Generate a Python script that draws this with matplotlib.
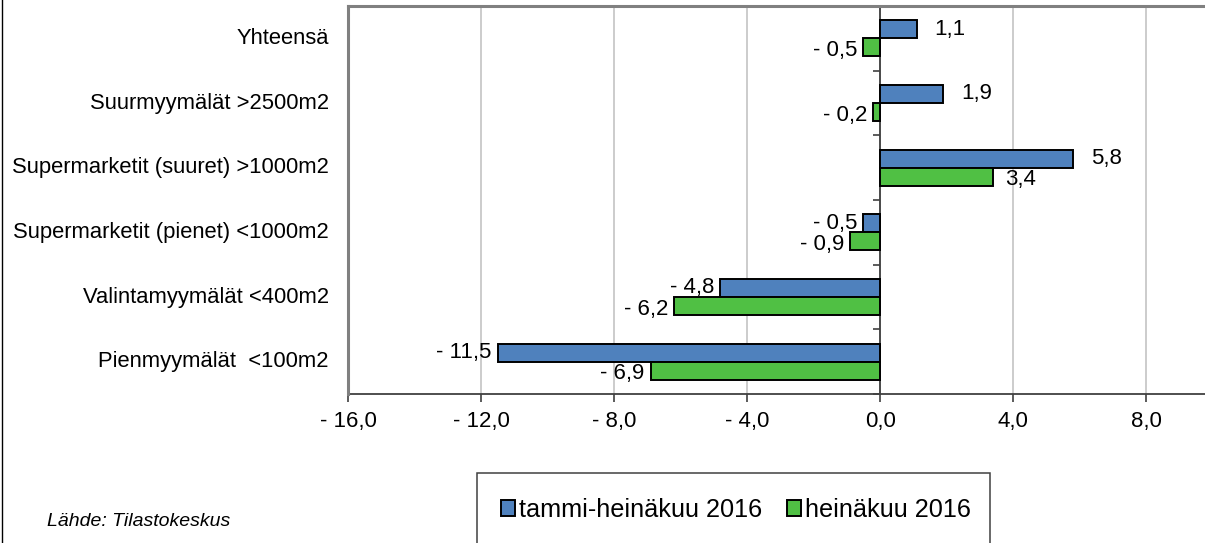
import matplotlib
matplotlib.use('Agg')
import matplotlib.pyplot as plt
import matplotlib.transforms as mtransforms
from matplotlib.patches import Patch, Rectangle
from matplotlib.lines import Line2D
import numpy as np

# data (top to bottom)
categories = ['Yhteensä', 'Suurmyymälät >2500m2', 'Supermarketit (suuret) >1000m2',
              'Supermarketit (pienet) <1000m2', 'Valintamyymälät <400m2', 'Pienmyymälät  <100m2']
tammi_heina = [1.1, 1.9, 5.8, -0.5, -4.8, -11.5]
heina = [-0.5, -0.2, 3.4, -0.9, -6.2, -6.9]
series_names = ['tammi-heinäkuu 2016', 'heinäkuu 2016']
x_ticks = [-16, -12, -8, -4, 0, 4, 8]

blue = '#4F81BD'
green = '#50C044'


def fmt(v):
    s = f"{abs(v):.1f}".replace('.', ',')
    return f"- {s}" if v < 0 else s


plt.rcParams['font.family'] = ['Liberation Sans', 'DejaVu Sans']

W, H = 1205, 543
fig = plt.figure(figsize=(W / 100, H / 100), dpi=100)
ax = fig.add_axes([348 / W, 1 - 394 / H, 1 - 348 / W, (394 - 6) / H])

n = len(categories)
ypos = np.arange(n)[::-1]
h = 0.28
ax.barh(ypos + h / 2, tammi_heina, height=h, color=blue, edgecolor='black', linewidth=1.4, zorder=3)
ax.barh(ypos - h / 2, heina, height=h, color=green, edgecolor='black', linewidth=1.4, zorder=3)

# value labels
for y, v in zip(ypos, tammi_heina):
    off = 18 if v > 0 else -6
    ax.annotate(fmt(v), (v, y + h / 2), xytext=(off, 0), textcoords='offset pixels',
                ha='left' if v > 0 else 'right', va='center', fontsize=16)
for y, v in zip(ypos, heina):
    off = 12 if v > 0 else -6
    ax.annotate(fmt(v), (v, y - h / 2), xytext=(off, -3), textcoords='offset pixels',
                ha='left' if v > 0 else 'right', va='center', fontsize=16)

ax.set_xlim(-16, 9.77)
ax.set_ylim(-0.5, n - 0.5)

# axes styling
ax.spines['left'].set_position(('data', 0))
ax.spines['left'].set_color('#404040')
ax.spines['left'].set_linewidth(1.3)
ax.spines['right'].set_visible(False)
ax.spines['top'].set_color('#808080')
ax.spines['top'].set_linewidth(2.2)
ax.spines['bottom'].set_color('#404040')
ax.spines['bottom'].set_linewidth(1.3)
ax.axvline(-16, color='#808080', lw=2.2, clip_on=False, zorder=4)

ax.set_yticks(ypos)
ax.set_yticklabels([])
ax.tick_params(axis='y', which='major', length=0)
ax.set_yticks(np.arange(-0.5, n, 1), minor=True)
ax.tick_params(axis='y', which='minor', length=5, width=1.2, color='#404040', direction='out')

ax.set_xticks(x_ticks)
ax.set_xticklabels([fmt(v) for v in x_ticks], fontsize=16)
ax.tick_params(axis='x', length=6, width=1.2, color='#404040', pad=6)
ax.grid(axis='x', color='#C8C8C8', lw=1.3)
ax.set_axisbelow(True)

trans = mtransforms.blended_transform_factory(ax.transAxes, ax.transData)
for y, lab in zip(ypos, categories):
    ax.text(-19 / 857, y, lab, transform=trans, ha='right', va='center', fontsize=15.8)

# legend
handles = [Patch(facecolor=blue, edgecolor='black', linewidth=1.4),
           Patch(facecolor=green, edgecolor='black', linewidth=1.4)]
fig.legend(handles, series_names, loc='center', bbox_to_anchor=(736 / W, 1 - 510 / H),
           ncol=2, frameon=False, fontsize=18.2, handlelength=0.55, handleheight=0.55,
           handletextpad=0.18, columnspacing=0.95)
fig.add_artist(Rectangle((477 / W, -0.05), (990 - 477) / W, 0.05 + 1 - 473 / H,
                         transform=fig.transFigure, fill=False, edgecolor='#404040', lw=1.1))

fig.text(47 / W, 1 - 521 / H, 'Lähde: Tilastokeskus', style='italic', va='center', fontsize=14)
fig.add_artist(Line2D([2 / W, 2 / W], [0, 1], transform=fig.transFigure, color='black', lw=1))

fig.savefig('out.png', dpi=100)
